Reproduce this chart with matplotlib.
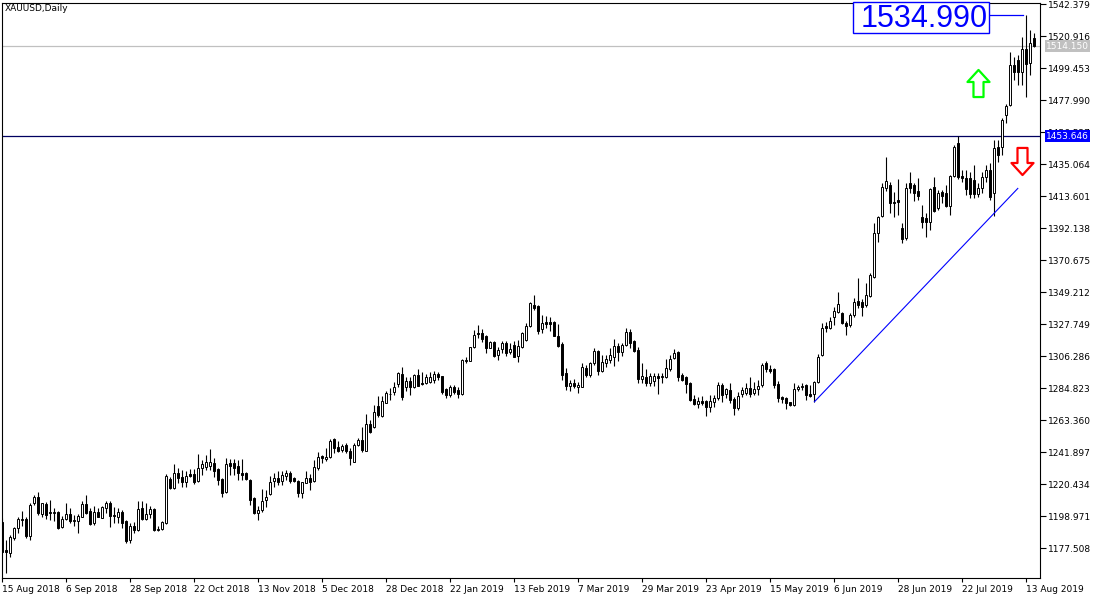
import numpy as np
import matplotlib
matplotlib.use("Agg")
import matplotlib.pyplot as plt
import matplotlib.transforms as mtransforms
from matplotlib.path import Path
from matplotlib.patches import Rectangle

symbol_title = "XAUUSD,Daily"

# daily bars, 15 Aug 2018 .. 15 Aug 2019
opens = [
    1195.2, 1176.2, 1174.0, 1184.0, 1190.7, 1196.5, 1196.8, 1185.6, 1207.5, 1211.5,
    1200.1, 1207.0, 1201.5, 1201.2, 1201.8, 1191.8, 1196.9, 1200.1, 1195.8, 1195.8,
    1198.5, 1207.0, 1202.5, 1194.1, 1201.5, 1197.8, 1204.1, 1207.7, 1199.4, 1198.5,
    1201.5, 1195.6, 1182.9, 1192.3, 1189.6, 1204.3, 1196.8, 1200.1, 1203.7, 1189.6,
    1190.1, 1194.5, 1223.8, 1217.5, 1227.6, 1224.9, 1221.6, 1227.1, 1227.1, 1222.5,
    1231.0, 1232.1, 1232.7, 1234.3, 1230.5, 1223.8, 1214.9, 1234.3, 1234.3, 1232.5,
    1228.0, 1227.6, 1223.1, 1210.9, 1200.8, 1203.0, 1210.0, 1213.7, 1222.6, 1224.5,
    1222.3, 1225.8, 1227.6, 1224.5, 1222.7, 1214.6, 1221.3, 1224.5, 1222.7, 1231.0,
    1239.4, 1237.0, 1238.4, 1250.4, 1245.1, 1243.5, 1246.6, 1242.6, 1235.4, 1246.6,
    1250.0, 1242.8, 1260.7, 1258.5, 1272.8, 1266.0, 1275.0, 1280.6, 1282.3, 1287.5,
    1294.0, 1285.7, 1289.7, 1285.3, 1293.6, 1288.0, 1287.9, 1289.1, 1290.2, 1294.0,
    1292.9, 1283.9, 1280.1, 1285.7, 1283.5, 1280.8, 1302.7, 1303.1, 1312.1, 1322.0,
    1321.5, 1319.7, 1311.9, 1315.9, 1307.0, 1310.8, 1314.8, 1308.8, 1313.7, 1306.3,
    1312.5, 1317.0, 1326.6, 1340.5, 1339.8, 1324.2, 1329.1, 1329.1, 1329.1, 1319.9,
    1314.3, 1294.7, 1286.4, 1288.2, 1285.7, 1285.7, 1298.0, 1293.5, 1301.8, 1309.8,
    1296.4, 1301.8, 1303.6, 1305.8, 1313.0, 1309.2, 1313.7, 1322.6, 1316.3, 1310.3,
    1290.7, 1292.4, 1288.0, 1289.7, 1292.9, 1292.4, 1292.0, 1297.4, 1304.7, 1309.2,
    1293.6, 1292.0, 1288.4, 1277.2, 1274.1, 1276.1, 1276.1, 1272.3, 1275.6, 1277.9,
    1286.8, 1280.8, 1283.5, 1277.2, 1271.2, 1280.6, 1281.7, 1284.6, 1281.7, 1284.1,
    1286.8, 1301.4, 1297.8, 1297.4, 1287.3, 1279.0, 1277.9, 1275.2, 1273.4, 1283.9,
    1285.3, 1286.6, 1280.8, 1280.6, 1288.6, 1306.9, 1326.4, 1324.9, 1332.7, 1336.0,
    1335.3, 1328.6, 1327.1, 1333.8, 1343.2, 1342.7, 1340.5, 1346.5, 1359.5, 1388.6,
    1400.2, 1418.8, 1421.0, 1409.8, 1410.9, 1391.9, 1385.2, 1422.1, 1421.0, 1417.0,
    1399.3, 1398.6, 1396.3, 1419.9, 1405.3, 1416.5, 1415.8, 1406.9, 1427.0, 1448.9,
    1427.0, 1425.5, 1425.5, 1424.3, 1414.9, 1418.9, 1426.1, 1431.1, 1415.8, 1446.7,
    1446.7, 1467.9, 1474.7, 1501.5, 1504.8, 1497.0, 1512.0, 1502.6, 1519.4,
]
highs = [
    1197.6, 1182.9, 1186.2, 1191.8, 1198.5, 1202.5, 1198.5, 1207.5, 1213.1, 1215.3,
    1208.0, 1208.6, 1209.7, 1204.1, 1202.5, 1199.0, 1207.5, 1204.1, 1199.6, 1200.1,
    1209.2, 1213.1, 1204.1, 1205.7, 1204.1, 1205.7, 1209.1, 1209.2, 1204.8, 1204.1,
    1203.0, 1196.3, 1194.1, 1194.9, 1209.1, 1209.1, 1207.5, 1205.9, 1204.5, 1192.5,
    1195.6, 1227.1, 1224.9, 1233.7, 1231.4, 1229.8, 1229.2, 1230.3, 1230.3, 1240.6,
    1236.6, 1239.9, 1243.9, 1237.7, 1231.0, 1224.5, 1237.7, 1237.2, 1237.0, 1236.6,
    1237.0, 1228.7, 1223.6, 1211.6, 1205.7, 1216.9, 1216.4, 1225.8, 1227.6, 1229.4,
    1229.4, 1229.8, 1229.4, 1225.3, 1223.1, 1222.0, 1229.4, 1227.1, 1236.6, 1242.1,
    1239.9, 1244.8, 1250.4, 1251.1, 1249.5, 1247.3, 1247.7, 1244.4, 1248.1, 1251.1,
    1258.9, 1267.4, 1263.4, 1273.4, 1279.5, 1279.5, 1283.0, 1284.6, 1288.6, 1295.4,
    1298.7, 1292.4, 1292.4, 1294.2, 1297.4, 1295.8, 1294.0, 1295.8, 1296.4, 1295.8,
    1293.2, 1284.6, 1286.8, 1286.8, 1285.7, 1304.3, 1305.8, 1312.5, 1323.7, 1327.1,
    1324.2, 1320.4, 1316.6, 1316.4, 1312.5, 1316.4, 1316.4, 1314.8, 1316.3, 1317.0,
    1322.6, 1328.2, 1342.7, 1347.2, 1340.5, 1333.8, 1333.1, 1332.3, 1330.0, 1327.8,
    1315.9, 1298.0, 1290.2, 1290.7, 1289.1, 1301.4, 1300.3, 1302.5, 1311.5, 1310.3,
    1306.9, 1306.9, 1311.5, 1317.5, 1315.2, 1315.2, 1325.3, 1324.2, 1317.0, 1312.5,
    1301.4, 1297.4, 1294.7, 1294.7, 1294.7, 1294.7, 1304.1, 1306.9, 1310.8, 1309.8,
    1294.7, 1292.9, 1289.0, 1280.1, 1278.6, 1279.5, 1276.8, 1280.1, 1280.1, 1289.1,
    1287.9, 1284.6, 1287.9, 1279.0, 1282.3, 1285.7, 1287.9, 1292.0, 1289.1, 1290.2,
    1301.4, 1303.1, 1300.3, 1298.0, 1289.7, 1279.5, 1278.6, 1275.6, 1287.9, 1286.8,
    1287.9, 1287.3, 1286.8, 1289.7, 1307.6, 1328.2, 1329.3, 1332.6, 1339.4, 1349.4,
    1336.0, 1330.0, 1334.9, 1345.0, 1358.4, 1344.3, 1355.0, 1362.2, 1395.3, 1400.2,
    1422.1, 1439.9, 1423.2, 1416.5, 1424.8, 1395.3, 1422.1, 1429.9, 1422.1, 1425.5,
    1407.6, 1402.0, 1418.8, 1426.6, 1417.6, 1417.6, 1421.0, 1427.7, 1447.8, 1453.6,
    1431.0, 1431.0, 1429.9, 1434.4, 1422.1, 1429.9, 1434.4, 1435.5, 1451.2, 1451.2,
    1465.7, 1475.3, 1510.4, 1507.0, 1508.2, 1520.4, 1534.99, 1524.9, 1522.7,
]
lows = [
    1174.2, 1160.5, 1171.7, 1182.9, 1187.8, 1192.3, 1184.0, 1182.9, 1206.4, 1199.6,
    1198.3, 1196.9, 1196.3, 1195.6, 1190.0, 1190.7, 1196.3, 1194.1, 1192.3, 1187.8,
    1198.1, 1200.3, 1192.9, 1192.9, 1198.0, 1197.4, 1200.8, 1191.8, 1194.5, 1194.1,
    1190.7, 1181.1, 1180.7, 1187.6, 1188.9, 1196.3, 1196.0, 1197.4, 1188.9, 1189.0,
    1189.8, 1193.8, 1216.9, 1216.9, 1221.3, 1218.6, 1218.6, 1225.3, 1220.2, 1222.0,
    1226.5, 1229.8, 1229.8, 1225.3, 1219.8, 1211.9, 1214.2, 1226.5, 1226.5, 1223.1,
    1223.1, 1223.1, 1206.4, 1200.0, 1196.3, 1201.7, 1205.0, 1213.1, 1218.6, 1219.8,
    1219.8, 1223.1, 1220.9, 1222.0, 1211.9, 1210.9, 1220.9, 1216.4, 1222.0, 1229.8,
    1234.3, 1236.1, 1237.7, 1241.0, 1242.1, 1242.1, 1241.0, 1233.2, 1235.4, 1246.0,
    1242.1, 1242.5, 1254.4, 1257.8, 1265.2, 1265.2, 1274.6, 1276.8, 1280.1, 1285.7,
    1276.8, 1283.0, 1280.1, 1285.0, 1286.1, 1286.8, 1287.5, 1288.0, 1288.4, 1290.2,
    1281.0, 1277.9, 1279.0, 1281.0, 1277.9, 1280.1, 1301.8, 1302.9, 1311.5, 1318.2,
    1315.9, 1308.5, 1311.5, 1305.8, 1303.6, 1308.5, 1306.3, 1307.6, 1305.4, 1302.5,
    1311.5, 1316.6, 1325.9, 1337.1, 1321.1, 1321.5, 1324.8, 1323.3, 1319.7, 1312.5,
    1290.2, 1283.5, 1283.0, 1284.6, 1281.3, 1285.3, 1292.4, 1292.4, 1300.3, 1293.6,
    1295.8, 1298.7, 1301.4, 1299.6, 1303.1, 1306.3, 1313.2, 1311.5, 1309.2, 1288.0,
    1288.4, 1286.1, 1286.1, 1286.1, 1280.8, 1288.0, 1291.3, 1296.4, 1304.1, 1289.7,
    1289.7, 1281.7, 1276.3, 1273.4, 1271.2, 1273.4, 1266.1, 1268.9, 1272.3, 1276.8,
    1275.6, 1277.9, 1274.6, 1266.7, 1270.1, 1279.0, 1280.1, 1279.0, 1280.1, 1280.1,
    1285.7, 1295.8, 1294.7, 1284.6, 1275.6, 1274.6, 1270.6, 1272.8, 1272.8, 1283.0,
    1283.5, 1276.8, 1279.0, 1275.6, 1288.0, 1306.3, 1322.6, 1324.2, 1327.1, 1334.9,
    1327.7, 1320.4, 1325.9, 1332.7, 1338.3, 1333.1, 1339.4, 1346.1, 1358.4, 1382.9,
    1399.7, 1417.0, 1402.0, 1399.7, 1400.9, 1381.9, 1384.1, 1415.4, 1410.5, 1410.9,
    1391.9, 1385.9, 1390.8, 1403.1, 1404.2, 1408.7, 1406.0, 1400.9, 1426.2, 1424.8,
    1423.2, 1414.3, 1412.1, 1412.1, 1413.1, 1415.4, 1423.2, 1410.9, 1400.0, 1436.6,
    1441.1, 1462.4, 1474.0, 1491.4, 1488.1, 1488.1, 1480.2, 1494.8, 1513.7,
]
closes = [
    1175.0, 1174.6, 1184.7, 1191.1, 1196.9, 1196.9, 1185.8, 1206.4, 1211.5, 1201.2,
    1207.5, 1199.7, 1201.0, 1201.6, 1191.1, 1196.9, 1200.3, 1195.8, 1196.3, 1199.0,
    1207.0, 1200.8, 1193.4, 1201.5, 1198.5, 1204.8, 1207.5, 1199.0, 1199.0, 1201.5,
    1194.5, 1182.4, 1192.3, 1189.6, 1203.7, 1196.8, 1200.3, 1203.7, 1189.6, 1190.3,
    1195.2, 1225.8, 1217.5, 1227.6, 1224.7, 1222.0, 1226.0, 1226.0, 1221.6, 1231.0,
    1233.9, 1235.4, 1235.0, 1229.4, 1223.1, 1214.6, 1233.9, 1232.7, 1231.4, 1227.6,
    1226.5, 1223.6, 1209.7, 1200.8, 1203.0, 1209.3, 1211.7, 1221.6, 1224.5, 1222.0,
    1226.3, 1227.6, 1222.6, 1222.7, 1214.6, 1221.6, 1224.5, 1222.0, 1231.7, 1238.8,
    1237.7, 1238.4, 1249.5, 1244.8, 1242.8, 1245.7, 1242.6, 1238.1, 1246.6, 1250.0,
    1243.3, 1260.7, 1255.5, 1268.9, 1266.7, 1276.3, 1281.3, 1280.8, 1285.3, 1294.7,
    1279.0, 1289.7, 1285.3, 1293.6, 1286.4, 1287.3, 1292.4, 1292.0, 1294.0, 1292.0,
    1282.3, 1280.1, 1285.3, 1282.3, 1280.8, 1303.6, 1303.8, 1312.1, 1320.4, 1321.1,
    1317.7, 1311.9, 1315.9, 1306.3, 1310.3, 1315.3, 1308.5, 1311.0, 1305.8, 1313.2,
    1321.9, 1326.4, 1342.0, 1338.7, 1323.1, 1328.2, 1327.6, 1328.0, 1319.9, 1313.0,
    1293.5, 1286.1, 1288.2, 1286.4, 1286.8, 1298.7, 1293.5, 1301.8, 1309.8, 1296.4,
    1302.5, 1304.1, 1306.9, 1313.0, 1309.2, 1313.7, 1322.6, 1315.2, 1309.8, 1290.7,
    1292.9, 1288.0, 1292.9, 1292.9, 1291.4, 1292.9, 1298.0, 1304.1, 1308.1, 1292.4,
    1290.2, 1287.5, 1276.8, 1274.1, 1276.1, 1275.0, 1272.3, 1276.1, 1277.9, 1286.8,
    1280.1, 1283.9, 1276.8, 1271.2, 1279.5, 1283.5, 1284.6, 1280.8, 1283.9, 1285.9,
    1300.3, 1297.4, 1296.4, 1286.8, 1277.9, 1277.6, 1275.0, 1273.4, 1284.0, 1285.3,
    1286.1, 1280.1, 1279.5, 1288.6, 1305.4, 1324.9, 1324.9, 1329.9, 1336.5, 1340.9,
    1328.2, 1326.4, 1333.8, 1342.7, 1340.5, 1339.4, 1347.2, 1360.6, 1388.6, 1399.3,
    1419.4, 1423.9, 1409.1, 1408.7, 1409.8, 1384.5, 1418.8, 1418.8, 1415.8, 1413.8,
    1395.9, 1396.3, 1418.1, 1403.7, 1415.8, 1413.6, 1406.9, 1427.0, 1446.7, 1426.2,
    1425.5, 1418.1, 1414.7, 1414.7, 1418.8, 1426.6, 1431.1, 1412.9, 1445.6, 1441.1,
    1464.6, 1474.0, 1501.5, 1497.0, 1497.0, 1512.0, 1502.1, 1516.4, 1514.15,
]

date_labels = [
    "15 Aug 2018", "6 Sep 2018", "28 Sep 2018", "22 Oct 2018", "13 Nov 2018",
    "5 Dec 2018", "28 Dec 2018", "22 Jan 2019", "13 Feb 2019", "7 Mar 2019",
    "29 Mar 2019", "23 Apr 2019", "15 May 2019", "6 Jun 2019", "28 Jun 2019",
    "22 Jul 2019", "13 Aug 2019",
]
price_ticks = [
    1542.379, 1520.916, 1499.453, 1477.990, 1456.527, 1435.064, 1413.601,
    1392.138, 1370.675, 1349.212, 1327.749, 1306.286, 1284.823, 1263.360,
    1241.897, 1220.434, 1198.971, 1177.508,
]

resistance_level = 1453.646
bid_price = 1514.150

# chart objects: trend line (bar index, price) and the two arrows
trend_bars = [203.0, 253.85]
trend_prices = [1275.6, 1418.7]
arrow_up_at = (243.9, 1489.6)
arrow_down_at = (254.8, 1436.9)

fig = plt.figure(figsize=(11, 6), dpi=100)
ax = fig.add_axes([2 / 1100, 22 / 600, 1038 / 1100, 575.5 / 600])

o = np.array(opens)
h = np.array(highs)
l = np.array(lows)
c = np.array(closes)
idx = np.arange(len(c))
bull = c >= o

# levels behind the candles
ax.axhline(bid_price, color="#C0C0C0", lw=0.9, zorder=1)
ax.axhline(resistance_level, color="#000060", lw=0.9, zorder=1)

# candles
ax.vlines(idx, l, h, color="black", lw=0.8, zorder=2)
bottom = np.minimum(o, c)
height = np.maximum(np.abs(c - o), 0.15)
ax.bar(idx[bull], height[bull], bottom=bottom[bull], width=0.5,
       facecolor="white", edgecolor="black", lw=0.7, zorder=3)
ax.bar(idx[~bull], height[~bull], bottom=bottom[~bull], width=0.5,
       facecolor="black", edgecolor="black", lw=0.7, zorder=3)

# trend line
ax.plot(trend_bars, trend_prices, color="#0000FF", lw=0.8, zorder=4)

# arrows
up_shape = [(0, 13.5), (11, 1.5), (5, 1.5), (5, -13.5), (-5, -13.5),
            (-5, 1.5), (-11, 1.5), (0, 13.5)]
up_arrow = Path(up_shape, closed=True)
down_arrow = Path([(x, -y) for x, y in up_shape], closed=True)
ax.plot([arrow_up_at[0]], [arrow_up_at[1]], marker=up_arrow, markersize=19.5,
        markerfacecolor="white", markeredgecolor="#00FF00", markeredgewidth=1.6,
        linestyle="none", zorder=5)
ax.plot([arrow_down_at[0]], [arrow_down_at[1]], marker=down_arrow, markersize=19.5,
        markerfacecolor="white", markeredgecolor="#FF0000", markeredgewidth=1.6,
        linestyle="none", zorder=5)

# high price label
top = max(highs)
top_bar = highs.index(top)
ax.add_patch(Rectangle((212.6, 1522.7), 34.15, 21.2, facecolor="white",
                       edgecolor="#0000FF", lw=1.0, zorder=6, clip_on=False))
ax.text(230.4, 1526.7, f"{top:.3f}", fontsize=22, family="Liberation Sans",
        color="#0000FF", ha="center", va="baseline", zorder=7)
ax.plot([246.75, top_bar - 0.8], [top, top], color="#0000FF", lw=0.9, zorder=5)

# axes
ax.set_xlim(-0.1, 259.4)
ax.set_ylim(1157.4, 1543.4)
ax.set_xticks(range(0, len(c), 16))
ax.set_xticklabels(date_labels, ha="left")
ax.yaxis.tick_right()
ax.set_yticks(price_ticks)
ax.set_yticklabels([f"{p:.3f}" for p in price_ticks])
ax.tick_params(axis="y", direction="out", length=4, width=0.8, pad=1.5,
               labelsize=6.5, colors="black")
ax.tick_params(axis="x", direction="out", length=3, width=0.8, pad=2,
               labelsize=6.5, colors="black")
for s in ax.spines.values():
    s.set_color("black")
    s.set_linewidth(0.8)

trans = mtransforms.blended_transform_factory(ax.transAxes, ax.transData)
ax.text(1.0058, bid_price, f"{bid_price:.3f}", transform=trans, fontsize=6.5,
        color="white", ha="left", va="center", clip_on=False, zorder=10,
        bbox=dict(boxstyle="square,pad=0.15", fc="#C0C0C0", ec="none"))
ax.text(1.0058, resistance_level, f"{resistance_level:.3f}", transform=trans,
        fontsize=6.5, color="white", ha="left", va="center", clip_on=False,
        zorder=10, bbox=dict(boxstyle="square,pad=0.15", fc="#0000FF", ec="none"))

fig.text(5 / 1100, 1 - 4 / 600, symbol_title, fontsize=6.5, ha="left", va="top")

fig.savefig("out.png", dpi=100)
